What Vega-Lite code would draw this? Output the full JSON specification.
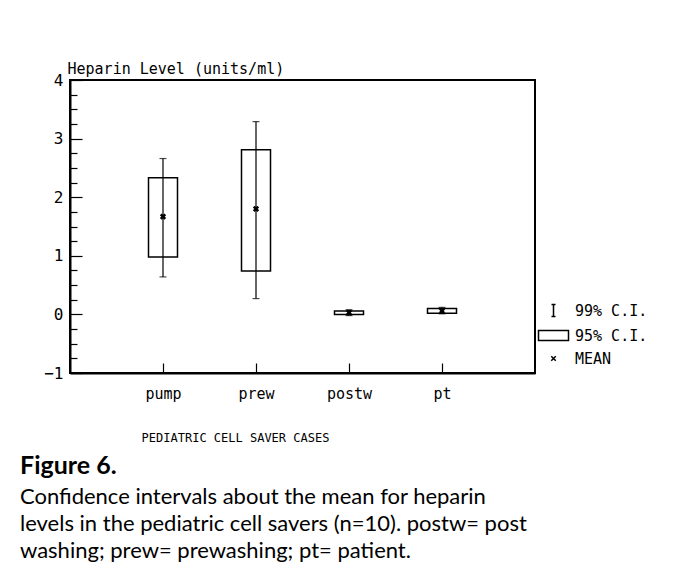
{
  "$schema": "https://vega.github.io/schema/vega-lite/v6.json",
  "autosize": {"type": "none"},
  "width": 465,
  "height": 293,
  "padding": {"left": 70, "top": 80, "right": 141, "bottom": 206},
  "background": "white",
  "config": {
    "view": {"stroke": "black", "strokeWidth": 2},
    "font": "DejaVu Sans Mono"
  },
  "title": {
    "text": "Figure 6.",
    "subtitle": ["Confidence intervals about the mean for heparin", "levels in the pediatric cell savers (n=10). postw= post", "washing; prew= prewashing; pt= patient."],
    "orient": "bottom",
    "anchor": "start",
    "frame": "group",
    "dx": -50,
    "offset": 11,
    "font": "Lato",
    "fontSize": 25,
    "fontWeight": "bold",
    "color": "black",
    "subtitleFont": "Lato",
    "subtitleFontSize": 22,
    "subtitleColor": "black",
    "subtitleLineHeight": 27,
    "subtitlePadding": 8
  },
  "resolve": {"axis": {"y": "independent"}},
  "data": {
    "values": [
      {"group": "pump", "lo99": 0.64, "lo95": 0.98, "mean": 1.67, "hi95": 2.33, "hi99": 2.66},
      {"group": "prew", "lo99": 0.27, "lo95": 0.74, "mean": 1.80, "hi95": 2.81, "hi99": 3.29},
      {"group": "postw", "lo99": -0.02, "lo95": 0.0, "mean": 0.03, "hi95": 0.06, "hi99": 0.08},
      {"group": "pt", "lo99": 0.01, "lo95": 0.02, "mean": 0.06, "hi95": 0.10, "hi99": 0.12}
    ]
  },
  "encoding": {
    "x": {
      "field": "group",
      "type": "nominal",
      "sort": ["pump", "prew", "postw", "pt"],
      "scale": {"type": "point", "padding": 1},
      "axis": {
        "title": "PEDIATRIC CELL SAVER CASES",
        "titleFont": "DejaVu Sans Mono",
        "titleFontSize": 12,
        "titleFontWeight": "normal",
        "titleColor": "black",
        "titleX": 165,
        "titleY": 64,
        "titleAlign": "center",
        "titleBaseline": "middle",
        "labelAngle": 0,
        "labelFont": "DejaVu Sans Mono",
        "labelFontSize": 15,
        "labelColor": "black",
        "labelPadding": 23,
        "domainColor": "black",
        "domainWidth": 2,
        "tickColor": "black",
        "tickSize": -10,
        "tickWidth": 1.2
      }
    }
  },
  "layer": [
    {
      "mark": {"type": "rule", "color": "black", "strokeWidth": 1.5},
      "encoding": {"y": {"datum": 0, "type": "quantitative", "axis": null}}
    },
    {
      "mark": {"type": "bar", "size": 29, "fill": "white", "stroke": "black", "strokeWidth": 1.5},
      "encoding": {
        "y": {
          "field": "lo95",
          "type": "quantitative",
          "scale": {"domain": [-1, 4], "nice": false, "zero": false},
          "axis": {
            "orient": "left",
            "title": "Heparin Level (units/ml)",
            "titleAngle": 0,
            "titleX": -3,
            "titleY": -7,
            "titleAlign": "left",
            "titleBaseline": "alphabetic",
            "titleFont": "DejaVu Sans Mono",
            "titleFontSize": 15,
            "titleFontWeight": "normal",
            "titleColor": "black",
            "values": [-1, 0, 1, 2, 3, 4],
            "format": "d",
            "labelOverlap": false,
            "labelFont": "DejaVu Sans Mono",
            "labelFontSize": 16,
            "labelColor": "black",
            "labelPadding": 19,
            "grid": false,
            "domainColor": "black",
            "domainWidth": 2,
            "tickColor": "black",
            "tickWidth": 1.2,
            "tickSize": -12
          }
        },
        "y2": {"field": "hi95"}
      }
    },
    {
      "mark": {"type": "rule", "color": "black", "strokeWidth": 1.2},
      "encoding": {
        "y": {
          "field": "lo99",
          "type": "quantitative",
          "axis": {
            "orient": "left",
            "title": null,
            "labels": false,
            "domain": false,
            "grid": false,
            "values": [-0.75, -0.5, -0.25, 0.25, 0.5, 0.75, 1.25, 1.5, 1.75, 2.25, 2.5, 2.75, 3.25, 3.5, 3.75],
            "tickColor": "black",
            "tickWidth": 1.2,
            "tickSize": -7
          }
        },
        "y2": {"field": "hi99"}
      }
    },
    {
      "mark": {"type": "tick", "color": "black", "size": 7, "thickness": 1.2},
      "encoding": {"y": {"field": "lo99", "type": "quantitative", "axis": null}}
    },
    {
      "mark": {"type": "tick", "color": "black", "size": 7, "thickness": 1.2},
      "encoding": {"y": {"field": "hi99", "type": "quantitative", "axis": null}}
    },
    {
      "mark": {"type": "point", "filled": false, "color": "black", "strokeWidth": 2.5, "size": 100, "opacity": 1},
      "encoding": {
        "y": {"field": "mean", "type": "quantitative", "axis": null},
        "shape": {
          "datum": "MEAN",
          "scale": {
            "domain": ["99% C.I.", "95% C.I.", "MEAN"],
            "range": [
              "M-0.4,-1.2H0.4M0,-1.2V1.2M-0.4,1.2H0.4",
              "M-3,-1H3V1H-3Z",
              "M-0.45,-0.45L0.45,0.45M-0.45,0.45L0.45,-0.45"
            ]
          },
          "legend": {
            "title": null,
            "orient": "none",
            "legendX": 476,
            "legendY": 223,
            "symbolSize": 100,
            "symbolStrokeWidth": 1.5,
            "symbolStrokeColor": "black",
            "symbolFillColor": "transparent",
            "labelOffset": 14,
            "labelFont": "DejaVu Sans Mono",
            "labelFontSize": 15,
            "labelColor": "black",
            "rowPadding": 7
          }
        }
      }
    }
  ]
}
